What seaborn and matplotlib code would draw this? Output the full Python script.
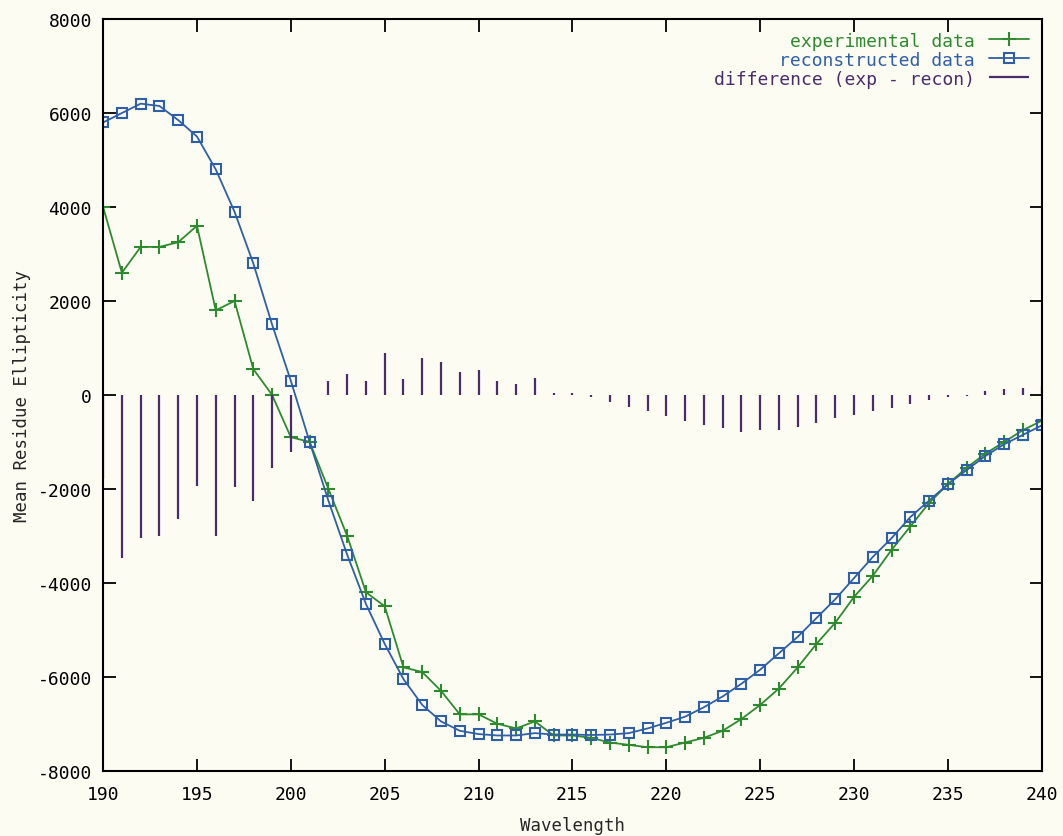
import numpy as np
import pandas as pd
import seaborn as sns
import matplotlib.pyplot as plt

# wavelengths (nm) 190..240, one reading per nm
wavelength = list(range(190, 241))

experimental = [4000, 2600, 3150, 3150, 3250, 3600, 1800, 2000, 550, 0,
                -900, -1000, -2000, -3000, -4200, -4500, -5800, -5900, -6300, -6800,
                -6800, -7000, -7100, -6950, -7250, -7250, -7300, -7400, -7450, -7500,
                -7500, -7400, -7300, -7150, -6900, -6600, -6250, -5800, -5300, -4850,
                -4300, -3850, -3300, -2800, -2300, -1900, -1550, -1250, -1000, -750,
                -550]

reconstructed = [5800, 6000, 6200, 6150, 5850, 5500, 4800, 3900, 2800, 1500,
                 300, -1000, -2250, -3400, -4450, -5300, -6050, -6600, -6950, -7150,
                 -7220, -7250, -7250, -7200, -7230, -7230, -7240, -7230, -7200, -7100,
                 -6980, -6850, -6650, -6420, -6150, -5850, -5500, -5150, -4750, -4350,
                 -3900, -3450, -3050, -2600, -2250, -1900, -1600, -1300, -1050, -850,
                 -650]

difference = [-1800, -3470, -3040, -3000, -2640, -1930, -3000, -1960, -2250, -1550,
              -1210, 0, 300, 450, 300, 900, 330, 780, 690, 480,
              520, 300, 230, 360, 50, 50, -50, -150, -250, -350,
              -450, -550, -650, -700, -780, -750, -750, -680, -600, -500,
              -420, -350, -280, -200, -100, -50, -20, 80, 120, 150,
              200]

green = '#2f8a2f'
blue = '#2f5fa6'
purple = '#4a2c6b'
paper = '#fcfcf3'

df = pd.DataFrame({'Wavelength': wavelength, 'exp': experimental,
                   'recon': reconstructed, 'diff': difference})

sns.set_style('ticks')
plt.rcParams['font.family'] = ['DejaVu Sans Mono', 'DejaVu Sans']
plt.rcParams['axes.unicode_minus'] = False

fig = plt.figure(figsize=(10.63, 8.37), dpi=100, facecolor=paper)
ax = fig.add_axes([0.097, 0.078, 0.883, 0.898])
ax.set_facecolor(paper)

sns.lineplot(data=df, x='Wavelength', y='exp', ax=ax, color=green, lw=1.3,
             marker='+', markersize=10, markeredgewidth=1.5, markeredgecolor=green,
             label='experimental data')
sns.lineplot(data=df, x='Wavelength', y='recon', ax=ax, color=blue, lw=1.3,
             marker='s', markersize=7, markerfacecolor='none', markeredgewidth=1.5,
             markeredgecolor=blue, label='reconstructed data')
ax.vlines(df['Wavelength'], 0, df['diff'], color=purple, lw=1.6,
          label='difference (exp - recon)')

ax.set_xlim(190, 240)
ax.set_ylim(-8000, 8000)
ax.set_xticks(range(190, 241, 5))
ax.set_yticks(range(-8000, 8001, 2000))
ax.tick_params(direction='in', length=9, width=1.3, top=True, right=True,
               labelsize=13, colors='black')
ax.tick_params(axis='x', pad=10)
ax.tick_params(axis='y', pad=8)
for s in ax.spines.values():
    s.set_visible(True)
    s.set_linewidth(1.5)
    s.set_color('black')

ax.set_xlabel('Wavelength', fontsize=12.5, labelpad=10)
ax.set_ylabel('Mean Residue Ellipticity', fontsize=12.5, labelpad=5)

leg = ax.legend(loc='upper right', frameon=False, markerfirst=False,
                fontsize=13, handlelength=2.2, labelspacing=0.05,
                borderaxespad=0.3)
for txt, c in zip(leg.get_texts(), [green, blue, purple]):
    txt.set_color(c)

fig.savefig('out.png', dpi=100, facecolor=paper)
